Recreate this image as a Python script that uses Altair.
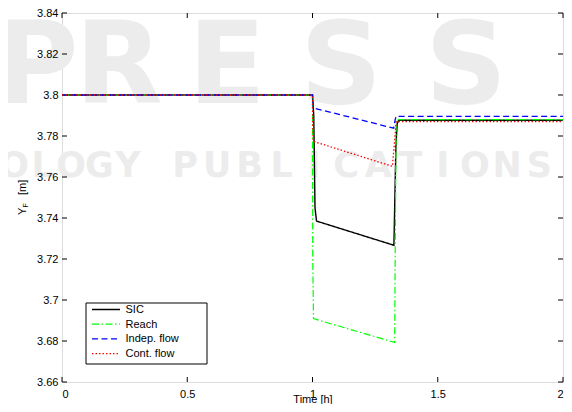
import altair as alt
import pandas as pd

# ---------------- data ----------------
t_sic = [0.0, 1.0, 1.005, 1.010, 1.016, 1.325, 1.333, 1.338, 1.344, 2.0]
y_sic = [3.800, 3.800, 3.790, 3.745, 3.7385, 3.7267, 3.775, 3.786, 3.7877, 3.7877]

t_reach = [0.0, 1.0, 1.001, 1.004, 1.328, 1.331, 1.334, 2.0]
y_reach = [3.800, 3.800, 3.720, 3.6909, 3.6793, 3.740, 3.788, 3.788]

t_indep = [0.0, 1.0, 1.003, 1.324, 1.330, 1.334, 2.0]
y_indep = [3.800, 3.800, 3.7937, 3.7838, 3.788, 3.7896, 3.7896]

t_cont = [0.0, 1.0, 1.001, 1.003, 1.319, 1.326, 1.334, 2.0]
y_cont = [3.800, 3.800, 3.785, 3.7774, 3.7652, 3.775, 3.787, 3.787]

series_names = ["SIC", "Reach", "Indep. flow", "Cont. flow"]
series_colors = ["#000000", "#00ff00", "#0000ff", "#ff0000"]
series_dashes = [[1, 0], [7, 2.5, 1.5, 2.5], [6, 3.5], [1.5, 2]]
series_widths = [1.4, 1.2, 1.3, 1.3]

x_ticks = [0, 0.5, 1, 1.5, 2]
y_ticks = [3.66, 3.68, 3.70, 3.72, 3.74, 3.76, 3.78, 3.80, 3.82, 3.84]

# background watermark text of the reference image
wm_top_letters = ["P", "R", "E", "S", "S"]
wm_line2_words = ["OLOGY", "PUBLICATIONS"]

FONT = "Liberation Sans"
WM_COLOR = "#ececec"
W, H = 501, 369

x_scale = alt.Scale(domain=[0, 2], nice=False, zero=False)
y_scale = alt.Scale(domain=[3.66, 3.84], nice=False, zero=False)

x_axis = alt.Axis(values=x_ticks, format="~g", ticks=False, grid=False, domain=False, zindex=2,
                  labelFont=FONT, labelFontSize=11, labelColor="black", labelPadding=6,
                  title="Time [h]", titleFont=FONT, titleFontSize=11, titleFontWeight="normal",
                  titleColor="black", titleY=20, titleBaseline="alphabetic")
y_axis = alt.Axis(values=y_ticks, format="~g", ticks=False, grid=False, domain=False, zindex=2,
                  labelFont=FONT, labelFontSize=11, labelColor="black", labelPadding=4,
                  title=None)

X = lambda f: alt.X(f, scale=x_scale, axis=x_axis)
Y = lambda f: alt.Y(f, scale=y_scale, axis=y_axis)

dummy = pd.DataFrame({"a": [0]})

layers = []

# faint watermark (decoration, behind everything)
top_x = [-67, 13, 126, 238, 363]
for letter, xx in zip(wm_top_letters, top_x):
    layers.append(alt.Chart(dummy).mark_text(text=letter, font="DejaVu Sans", fontWeight="bold",
                                             fontSize=114, color=WM_COLOR, align="left",
                                             baseline="alphabetic")
                  .encode(x=alt.value(xx), y=alt.value(90)))
word_start = [-62, 107]
word_pitch = [28.4, 32.2]
for word, xs, p in zip(wm_line2_words, word_start, word_pitch):
    for j, ch in enumerate(word):
        layers.append(alt.Chart(dummy).mark_text(text=ch, font="DejaVu Sans", fontWeight="bold",
                                                 fontSize=35, color=WM_COLOR, align="center",
                                                 baseline="alphabetic")
                      .encode(x=alt.value(xs + p / 2 + p * j), y=alt.value(164)))

# inward ticks on all four sides
tx = pd.DataFrame({"v": x_ticks})
ty = pd.DataFrame({"v": y_ticks})
layers.append(alt.Chart(tx).mark_rule(color="black", strokeWidth=1)
              .encode(x=X("v:Q"), y=alt.value(H), y2=alt.value(H - 5)))
layers.append(alt.Chart(tx).mark_rule(color="black", strokeWidth=1)
              .encode(x=X("v:Q"), y=alt.value(0), y2=alt.value(5)))
layers.append(alt.Chart(ty).mark_rule(color="black", strokeWidth=1)
              .encode(y=Y("v:Q"), x=alt.value(0), x2=alt.value(5)))
layers.append(alt.Chart(ty).mark_rule(color="black", strokeWidth=1)
              .encode(y=Y("v:Q"), x=alt.value(W), x2=alt.value(W - 5)))

# data lines
all_t = [t_sic, t_reach, t_indep, t_cont]
all_y = [y_sic, y_reach, y_indep, y_cont]
for name, t, y, c, d, w in zip(series_names, all_t, all_y, series_colors, series_dashes, series_widths):
    df = pd.DataFrame({"t": t, "y": y, "o": list(range(len(t)))})
    layers.append(alt.Chart(df).mark_line(color=c, strokeDash=d, strokeWidth=w, clip=True)
                  .encode(x=X("t:Q"), y=Y("y:Q"), order="o:Q"))

# legend box
layers.append(alt.Chart(dummy).mark_rect(fill="white", stroke="black", strokeWidth=1)
              .encode(x=alt.value(24), x2=alt.value(145), y=alt.value(290), y2=alt.value(351)))
for i, (name, c, d, w) in enumerate(zip(series_names, series_colors, series_dashes, series_widths)):
    yy = 296.5 + 14.7 * i
    layers.append(alt.Chart(dummy).mark_rule(color=c, strokeDash=d, strokeWidth=w)
                  .encode(x=alt.value(30), x2=alt.value(58), y=alt.value(yy)))
    layers.append(alt.Chart(dummy).mark_text(text=name, font=FONT, fontSize=11, color="black",
                                             align="left", baseline="middle")
                  .encode(x=alt.value(63.5), y=alt.value(yy + 0.5)))

# y-axis title  Y_F [m]  (rotated, with subscript)
layers.append(alt.Chart(dummy).mark_text(text="Y", font=FONT, fontSize=11, color="black", angle=270,
                                         align="left", baseline="alphabetic")
              .encode(x=alt.value(-36.5), y=alt.value(202)))
layers.append(alt.Chart(dummy).mark_text(text="F", font=FONT, fontSize=7, color="black", angle=270,
                                         align="left", baseline="alphabetic")
              .encode(x=alt.value(-34), y=alt.value(194.5)))
layers.append(alt.Chart(dummy).mark_text(text="[m]", font=FONT, fontSize=11, color="black", angle=270,
                                         align="left", baseline="alphabetic")
              .encode(x=alt.value(-36.5), y=alt.value(182)))

chart = alt.layer(*layers).properties(
    width=W, height=H,
    autosize=alt.AutoSizeParams(type="none"),
    padding={"left": 54, "top": 5, "right": 1, "bottom": 22},
).configure_view(stroke="black", strokeWidth=1).configure(background="white")

chart.save("out.html", embed_options={"renderer": "svg", "actions": False})
